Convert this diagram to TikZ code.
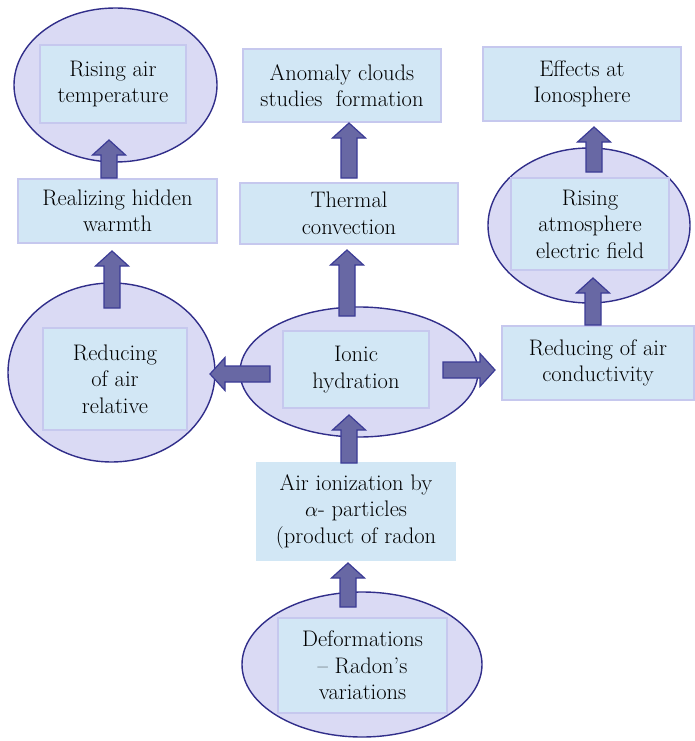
\documentclass[tikz,border=0pt]{standalone}
\usepackage{fontspec}
\usetikzlibrary{shapes.geometric,calc}

\definecolor{ovalfill}{HTML}{DADAF4}
\definecolor{ovaldraw}{HTML}{312E8A}
\definecolor{boxfill}{HTML}{D2E7F5}
\definecolor{boxdraw}{HTML}{C6C8EE}
\definecolor{arrowfill}{HTML}{6868A4}
\definecolor{arrowdraw}{HTML}{3B3B96}

\tikzset{
  oval/.style={ellipse, draw=ovaldraw, fill=ovalfill, line width=1.4pt, inner sep=0pt},
  textbox/.style={rectangle, draw=boxdraw, fill=boxfill, line width=1.4pt, inner sep=0pt,
    align=center, font=\rmfamily\fontsize{22.5}{26.5}\selectfont, text=black},
  fatarrowstyle/.style={draw=arrowdraw, fill=arrowfill, line width=1.2pt, line join=miter},
}

% block arrow from coordinate #1 to coordinate #2
\newcommand\fatarrow[2]{%
  \coordinate (hb) at ($(#2)!15pt!(#1)$);
  \draw[fatarrowstyle]
    ($(#1)!8pt!-90:(#2)$) -- ($(hb)!8pt!-90:(#2)$) -- ($(hb)!16.5pt!-90:(#2)$)
    -- (#2)
    -- ($(hb)!16.5pt!90:(#2)$) -- ($(hb)!8pt!90:(#2)$) -- ($(#1)!8pt!90:(#2)$) -- cycle;
}

\begin{document}
\begin{tikzpicture}[x=1pt,y=-1pt]
\useasboundingbox (0,0) rectangle (695,741);

% ovals
\node[oval, minimum width=203pt, minimum height=154pt] (e1) at (115.5,85) {};
\node[oval, minimum width=207pt, minimum height=179pt] (e2) at (111.5,372.5) {};
\node[oval, minimum width=238pt, minimum height=130pt] (e3) at (359,372) {};
\node[oval, minimum width=202pt, minimum height=155pt] (e4) at (589,225.5) {};
\node[oval, minimum width=240pt, minimum height=145pt] (e5) at (362,664.5) {};

% text boxes
\node[textbox, minimum width=146pt, minimum height=78pt] (b1) at (113,84) {Rising air\\temperature};
\node[textbox, minimum width=199pt, minimum height=64pt] (b2) at (117.5,211) {Realizing hidden\\warmth};
\node[textbox, minimum width=144pt, minimum height=102pt] (b3) at (115,379) {Reducing\\of air\\relative};
\node[textbox, minimum width=146pt, minimum height=77pt] (b4) at (356,369.5) {Ionic\\hydration};
\node[textbox, minimum width=218pt, minimum height=61pt] (b5) at (349,213.5) {Thermal\\convection};
\node[textbox, minimum width=198pt, minimum height=73pt] (b6) at (342,85.5) {Anomaly clouds\\studies\ \ formation};
\node[textbox, minimum width=198pt, minimum height=74pt] (b7) at (582,84) {Effects at\\Ionosphere};
\node[textbox, minimum width=158pt, minimum height=92pt] (b8) at (590,224) {Rising\\atmosphere\\electric field};
\node[textbox, minimum width=192pt, minimum height=74pt] (b9) at (598,363) {Reducing of air\\conductivity};
\node[textbox, draw=boxfill, minimum width=198pt, minimum height=97pt] (b10) at (356,511.5) {Air ionization by\\$\alpha$- particles\\(product of radon};
\node[textbox, minimum width=169pt, minimum height=95pt] (b11) at (362.5,665.5) {Deformations\\– Radon’s\\variations};

% arrow end points
\coordinate (a1s) at (109,178);  \coordinate (a1e) at (109,140);
\coordinate (a2s) at (112,308);  \coordinate (a2e) at (112,251);
\coordinate (a3s) at (270,374);  \coordinate (a3e) at (210,374);
\coordinate (a4s) at (443,370);  \coordinate (a4e) at (495,370);
\coordinate (a5s) at (347,316);  \coordinate (a5e) at (347,250);
\coordinate (a6s) at (349,463);  \coordinate (a6e) at (349,415);
\coordinate (a7s) at (349,178);  \coordinate (a7e) at (349,123);
\coordinate (a8s) at (593,325);  \coordinate (a8e) at (593,278);
\coordinate (a9s) at (594,172);  \coordinate (a9e) at (594,127);
\coordinate (a10s) at (348,607); \coordinate (a10e) at (348,563);

\fatarrow{a1s}{a1e}
\fatarrow{a2s}{a2e}
\fatarrow{a3s}{a3e}
\fatarrow{a4s}{a4e}
\fatarrow{a5s}{a5e}
\fatarrow{a6s}{a6e}
\fatarrow{a7s}{a7e}
\fatarrow{a8s}{a8e}
\fatarrow{a9s}{a9e}
\fatarrow{a10s}{a10e}
\end{tikzpicture}
\end{document}
